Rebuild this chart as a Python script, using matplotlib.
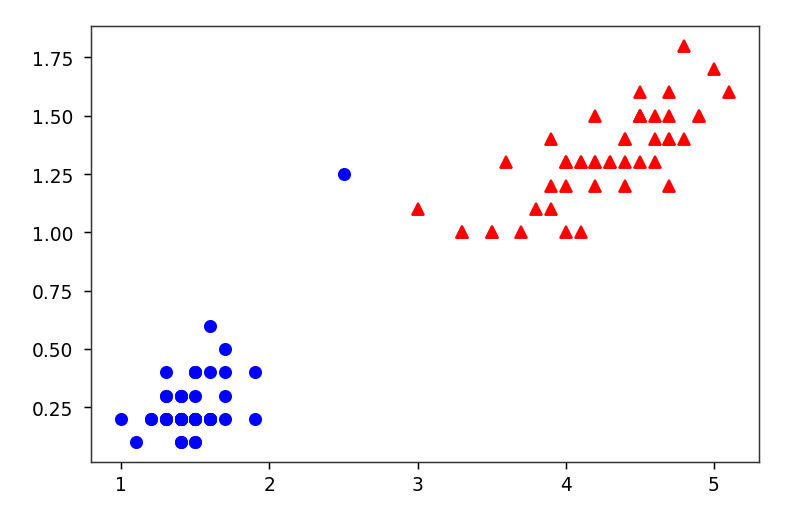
import matplotlib
matplotlib.use("Agg")
import matplotlib.pyplot as plt

setosa_len = [1.4, 1.4, 1.3, 1.5, 1.4, 1.7, 1.4, 1.5, 1.4, 1.5, 1.5, 1.6, 1.4, 1.1, 1.2, 1.5, 1.3, 1.4, 1.7, 1.5,
              1.7, 1.5, 1.0, 1.7, 1.9, 1.6, 1.6, 1.5, 1.4, 1.6, 1.6, 1.5, 1.5, 1.4, 1.5, 1.2, 1.3, 1.4, 1.3, 1.5,
              1.3, 1.3, 1.3, 1.6, 1.9, 1.4, 1.6, 1.4, 1.5, 1.4]
setosa_wid = [0.2, 0.2, 0.2, 0.2, 0.2, 0.4, 0.3, 0.2, 0.2, 0.1, 0.2, 0.2, 0.1, 0.1, 0.2, 0.4, 0.4, 0.3, 0.3, 0.3,
              0.2, 0.4, 0.2, 0.5, 0.2, 0.2, 0.4, 0.2, 0.2, 0.2, 0.2, 0.4, 0.1, 0.2, 0.2, 0.2, 0.2, 0.1, 0.2, 0.2,
              0.3, 0.3, 0.2, 0.6, 0.4, 0.3, 0.2, 0.2, 0.2, 0.2]
versi_len = [4.7, 4.5, 4.9, 4.0, 4.6, 4.5, 4.7, 3.3, 4.6, 3.9, 3.5, 4.2, 4.0, 4.7, 3.6, 4.4, 4.5, 4.1, 4.5, 3.9,
             4.8, 4.0, 4.9, 4.7, 4.3, 4.4, 4.8, 5.0, 4.5, 3.5, 3.8, 3.7, 3.9, 5.1, 4.5, 4.5, 4.7, 4.4, 4.1, 4.0,
             4.4, 4.6, 4.0, 3.3, 4.2, 4.2, 4.2, 4.3, 3.0, 4.1]
versi_wid = [1.4, 1.5, 1.5, 1.3, 1.5, 1.3, 1.6, 1.0, 1.3, 1.4, 1.0, 1.5, 1.0, 1.4, 1.3, 1.4, 1.5, 1.0, 1.5, 1.1,
             1.8, 1.3, 1.5, 1.2, 1.3, 1.4, 1.4, 1.7, 1.5, 1.0, 1.1, 1.0, 1.2, 1.6, 1.5, 1.6, 1.5, 1.3, 1.3, 1.3,
             1.2, 1.4, 1.2, 1.0, 1.3, 1.2, 1.3, 1.3, 1.1, 1.3]
new_point_x = [2.5]
new_point_y = [1.25]

fig = plt.figure(figsize=(6.0, 510 / 134.33), dpi=134.33)
ax = fig.add_axes([91 / 806, 1 - 463 / 510, (759 - 91) / 806, (463 - 27) / 510])
ax.plot(setosa_len + new_point_x, setosa_wid + new_point_y, 'bo')
ax.plot(versi_len, versi_wid, 'r^')
ax.set_yticks([0.25, 0.5, 0.75, 1.0, 1.25, 1.5, 1.75])
ax.tick_params(axis='y', pad=6)
for s in ax.spines.values():
    s.set_color('#333333')
fig.savefig("out.png", dpi=134.33)
